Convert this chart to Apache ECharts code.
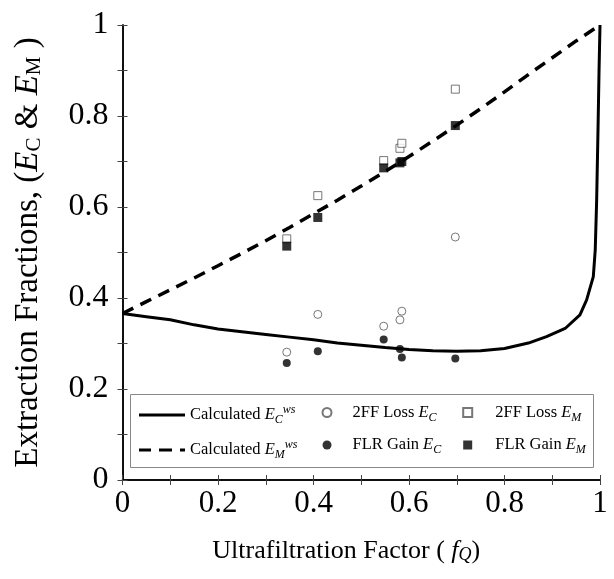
<!DOCTYPE html>
<html><head><meta charset="utf-8">
<script src="https://cdn.jsdelivr.net/npm/echarts@6/dist/echarts.min.js"></script>
<style>html,body{margin:0;padding:0;background:#fff}#c{width:614px;height:579px}</style>
</head><body><div id="c"></div>
<script>
// Calculated E_C^ws curve (solid)
const ecX = [0,0.05,0.1,0.15,0.2,0.25,0.3,0.35,0.4,0.45,0.5,0.55,0.6,0.65,0.7,0.75,0.8,0.85,0.888,0.927,0.958,0.972,0.986,0.990,0.993,0.996,0.998,1.0];
const ecY = [0.366,0.359,0.352,0.341,0.332,0.326,0.320,0.314,0.308,0.301,0.296,0.291,0.287,0.284,0.283,0.284,0.289,0.301,0.315,0.333,0.363,0.396,0.447,0.505,0.615,0.78,0.90,1.0];
// Calculated E_M^ws curve (dashed)
const emX = [0,0.05,0.1,0.15,0.2,0.25,0.3,0.35,0.4,0.45,0.5,0.55,0.6,0.65,0.7,0.75,0.8,0.85,0.9,0.95,1.0];
const emY = [0.366,0.392,0.418,0.444,0.471,0.498,0.526,0.555,0.585,0.615,0.646,0.678,0.711,0.745,0.780,0.816,0.853,0.891,0.928,0.965,1.0];
// Experimental points
const expX   = [0.344,0.409,0.547,0.581,0.585,0.697];
const lossEC = [0.281,0.364,0.338,0.352,0.371,0.534];
const lossEM = [0.530,0.625,0.702,0.729,0.740,0.859];
const gainEC = [0.257,0.283,0.309,0.288,0.269,0.267];
const gainEM = [0.514,0.577,0.686,0.697,0.700,0.779];
const tickLabels = ['0','0.2','0.4','0.6','0.8','1'];

const F = 'Liberation Serif';
const zip = (xs, ys) => xs.map((x, i) => [x, ys[i]]);
const fmt = v => { const r = Math.round(v * 10); return r % 2 === 0 ? tickLabels[r / 2] : ''; };

const base = {fontFamily: F, fontSize: 16.5, lineHeight: 22, color: '#000'};
const legendRich = {
  n:   base,
  n2:  Object.assign({}, base, {padding: [0, 0, 0, 16]}),
  n3:  Object.assign({}, base, {padding: [0, 0, 0, 18]}),
  i:   Object.assign({}, base, {fontStyle: 'italic'}),
  sub: {fontFamily: F, fontSize: 12, fontStyle: 'italic', lineHeight: 14, verticalAlign: 'bottom', color: '#000'},
  sup: {fontFamily: F, fontSize: 12, fontStyle: 'italic', lineHeight: 10, verticalAlign: 'top', color: '#000'}
};
const legendText = {
  'Calculated EC': '{n|Calculated }{i|E}{sub|C}{sup|ws}',
  'Calculated EM': '{n|Calculated }{i|E}{sub|M}{sup|ws}',
  '2FF Loss EC': '{n2|2FF Loss }{i|E}{sub|C}',
  'FLR Gain EC': '{n2|FLR Gain }{i|E}{sub|C}',
  '2FF Loss EM': '{n3|2FF Loss }{i|E}{sub|M}',
  'FLR Gain EM': '{n3|FLR Gain }{i|E}{sub|M}'
};
const legendCommon = {
  orient: 'vertical', top: 399, itemGap: 13,
  formatter: n => legendText[n],
  textStyle: {rich: legendRich},
  selectedMode: false, z: 10
};

const nameRich = {
  n:   {fontFamily: F, fontSize: 26, color: '#000'},
  i:   {fontFamily: F, fontSize: 26, fontStyle: 'italic', color: '#000'},
  subi:{fontFamily: F, fontSize: 18, fontStyle: 'italic', color: '#000', verticalAlign: 'bottom', lineHeight: 16}
};
const yNameRich = {
  n:   {fontFamily: F, fontSize: 33, color: '#000'},
  i:   {fontFamily: F, fontSize: 33, fontStyle: 'italic', color: '#000'},
  sub: {fontFamily: F, fontSize: 21, color: '#000', verticalAlign: 'bottom', lineHeight: 20}
};

const axisCommon = {
  min: 0, max: 1, interval: 0.1,
  axisLine: {lineStyle: {color: '#000', width: 1.5}},
  axisTick: {inside: true, length: 5, lineStyle: {color: '#444', width: 1}},
  splitLine: {show: false}
};

const chart = echarts.init(document.getElementById('c'));
chart.setOption({
  animation: false,
  backgroundColor: '#fff',
  grid: {left: 122.5, right: 14, top: 25, bottom: 99},
  xAxis: [
    Object.assign({}, axisCommon, {
      type: 'value', position: 'bottom',
      axisLabel: {formatter: fmt, fontFamily: F, fontSize: 31, color: '#000', margin: 8},
      name: '{n|Ultrafiltration Factor ( }{i|f}{subi|Q}{n|)}',
      nameLocation: 'middle', nameGap: 58,
      nameTextStyle: {rich: nameRich, padding: [0, 30, 0, 0]}
    }),
    Object.assign({}, axisCommon, {
      type: 'value', position: 'top', axisLabel: {show: false}
    })
  ],
  yAxis: [
    Object.assign({}, axisCommon, {
      type: 'value', position: 'left',
      axisLabel: {formatter: fmt, fontFamily: F, fontSize: 32, color: '#000', margin: 14},
      name: '{n|Extraction Fractions, (}{i|E}{sub|C}{n| & }{i|E}{sub|M}{n| )}',
      nameLocation: 'middle', nameGap: 78,
      nameTextStyle: {rich: yNameRich}
    }),
    Object.assign({}, axisCommon, {
      type: 'value', position: 'right', axisLabel: {show: false}
    })
  ],
  legend: [
    Object.assign({}, legendCommon, {left: 134, itemWidth: 46, itemHeight: 3,
      data: [{name: 'Calculated EC', icon: 'path://M0,0H46V3H0Z'},
             {name: 'Calculated EM', icon: 'path://M0,0H12V3H0Z M20,0H33V3H20Z M41,0H46V3H41Z'}]}),
    Object.assign({}, legendCommon, {left: 316.5, itemWidth: 9, itemHeight: 9,
      data: [{name: '2FF Loss EC', icon: 'circle'}, {name: 'FLR Gain EC', icon: 'circle'}]}),
    Object.assign({}, legendCommon, {left: 457.2, itemWidth: 9, itemHeight: 9,
      data: [{name: '2FF Loss EM', icon: 'path://M0,0H10V10H0Z'}, {name: 'FLR Gain EM', icon: 'path://M0,0H10V10H0Z'}]})
  ],
  graphic: [{
    type: 'rect', left: 130, top: 394, z: 5,
    shape: {width: 463, height: 73},
    style: {fill: '#fff', stroke: '#888', lineWidth: 1}
  }],
  series: [
    {name: 'Calculated EC', type: 'line', data: zip(ecX, ecY), symbol: 'none',
     lineStyle: {color: '#000', width: 3}, itemStyle: {color: '#000'}},
    {name: 'Calculated EM', type: 'line', data: zip(emX, emY), symbol: 'none',
     lineStyle: {color: '#000', width: 3.5, type: [12, 8]}, itemStyle: {color: '#000'}},
    {name: '2FF Loss EC', type: 'scatter', data: zip(expX, lossEC), symbol: 'circle', symbolSize: 8,
     itemStyle: {color: '#fff', borderColor: '#555', borderWidth: 1}},
    {name: '2FF Loss EM', type: 'scatter', data: zip(expX, lossEM), symbol: 'rect', symbolSize: 8,
     itemStyle: {color: '#fff', borderColor: '#555', borderWidth: 1}},
    {name: 'FLR Gain EC', type: 'scatter', data: zip(expX, gainEC), symbol: 'circle', symbolSize: 8,
     itemStyle: {color: '#000'}},
    {name: 'FLR Gain EM', type: 'scatter', data: zip(expX, gainEM), symbol: 'rect', symbolSize: 9,
     itemStyle: {color: '#000'}}
  ]
});
</script>
</body></html>
